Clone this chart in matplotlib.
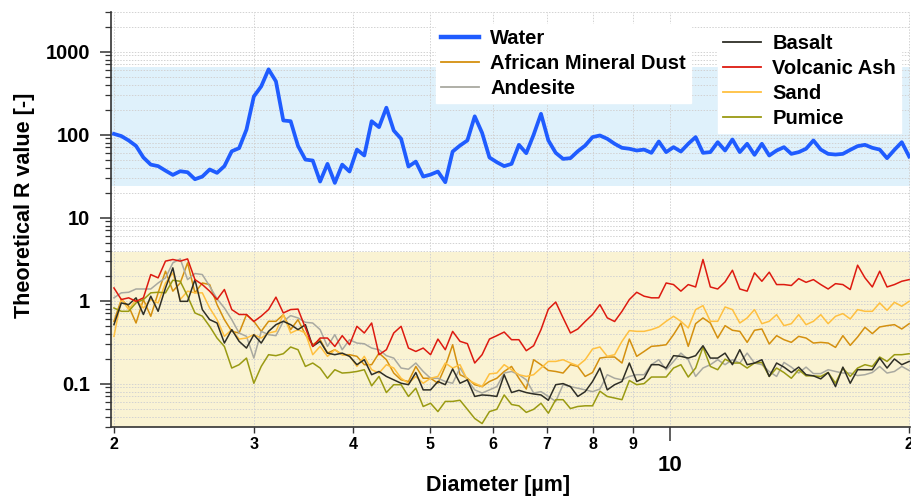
import numpy as np
import matplotlib
matplotlib.use("Agg")
import matplotlib.pyplot as plt
from matplotlib.ticker import FixedLocator, FixedFormatter, LogLocator, NullFormatter
from matplotlib.lines import Line2D

plt.rcParams['font.family'] = ['Liberation Sans', 'DejaVu Sans']
plt.rcParams['font.weight'] = 'bold'

# ---------------- data ----------------
n_bins = 109
diameter = np.geomspace(2.0, 20.0, n_bins)   # size-bin centres [um]

water = [102,96,85,73,53,43.5,41.7,36.8,32.7,36.2,35.2,29,31.2,38,34.6,41.7,63,68.7,115,288,
         381,611,438,148,145,73,50,48.7,27.2,44.4,26.2,43.5,35.9,66,56,145,123,211,112,89,
         41.2,47.3,31.2,33,35.9,26.7,62.5,73.8,85,166,105,53,46.5,41.7,
         44.4,75.3,59.7,99.6,178,85,60.3,51,52,63,73.8,93.3,97.6,89,77.5,69.3,67.5,64.3,66,
         60.3,82.6,61.5,70.6,62.5,77.5,93.3,60.3,61.5,81,64.3,87.3,61.5,77.5,57,77.5,56,64.3,
         70.6,58.6,61.5,67.5,85,66,58.6,57.5,58.6,65.5,72.6,75.3,69.3,66,52,65.5,81,54.5]

african_dust = [0.563,1.03,0.854,0.537,1.03,0.647,1.24,2.26,1.30,1.63,2.85,1.24,1.63,1.56,0.895,0.59,0.426,0.407,0.677,0.563,0.426,0.563,0.563,
                0.677,0.447,0.590,0.389,0.294,0.338,0.233,0.256,0.223,0.223,0.213,0.169,0.169,0.233,0.194,0.134,0.111,0.106,0.161,0.116,0.116,
                0.101,0.161,0.294,0.128,0.116,0.097,0.092,0.106,0.116,0.140,0.161,0.116,0.086,0.194,0.169,0.144,0.140,0.134,0.169,0.161,0.122,0.136,
                0.203,0.209,0.209,0.177,0.344,0.213,0.244,0.281,0.286,0.294,0.389,0.537,0.281,0.527,0.618,0.537,0.354,0.499,0.439,0.426,0.314,0.439,
                0.455,0.300,0.378,0.338,0.314,0.371,0.354,0.308,0.314,0.308,0.273,0.378,0.289,0.364,0.477,0.400,0.481,0.499,0.513,0.455,0.527]

andesite = [1.08,1.24,1.26,1.38,1.38,1.38,1.63,1.88,2.85,3.18,1.79,2.12,2.06,1.49,1.05,0.815,0.59,0.407,0.371,0.203,0.426,0.389,0.378,
            0.563,0.659,0.618,0.548,0.537,0.447,0.281,0.389,0.256,0.338,0.308,0.302,0.268,0.256,0.217,0.203,0.154,0.149,0.177,0.140,0.116,
            0.116,0.106,0.101,0.154,0.111,0.084,0.077,0.084,0.092,0.134,0.140,0.128,0.111,0.077,0.080,0.070,0.061,0.097,0.092,0.088,0.084,0.080,
            0.086,0.128,0.116,0.111,0.122,0.128,0.128,0.169,0.194,0.147,0.185,0.233,0.194,0.122,0.154,0.169,0.194,0.169,0.194,0.177,0.233,0.177,
            0.169,0.140,0.122,0.180,0.158,0.134,0.158,0.132,0.132,0.147,0.140,0.134,0.134,0.125,0.128,0.136,0.161,0.134,0.140,0.161,0.144]

basalt = [0.513,0.937,0.895,1.08,0.68,1.13,0.743,1.42,2.48,0.98,0.98,1.79,0.78,0.59,0.537,0.308,0.447,0.323,0.268,0.388,0.308,0.426,0.513,
          0.563,0.513,0.447,0.513,0.281,0.323,0.233,0.223,0.233,0.213,0.169,0.194,0.128,0.140,0.122,0.111,0.101,0.097,0.136,0.084,0.084,
          0.106,0.097,0.150,0.101,0.111,0.070,0.073,0.072,0.070,0.128,0.078,0.083,0.078,0.075,0.073,0.063,0.097,0.100,0.092,0.070,0.080,0.106,
          0.154,0.084,0.097,0.106,0.177,0.106,0.116,0.169,0.169,0.154,0.217,0.213,0.203,0.217,0.286,0.203,0.203,0.233,0.169,0.256,0.169,0.177,
          0.194,0.122,0.177,0.158,0.136,0.158,0.128,0.124,0.114,0.136,0.092,0.158,0.101,0.147,0.147,0.147,0.203,0.154,0.198,0.169,0.185]

volcanic_ash = [1.42,1.03,1.08,0.98,1.08,2.06,1.88,2.99,3.13,2.99,3.18,1.79,1.56,1.30,1.03,1.36,0.78,0.68,0.68,0.56,0.65,0.78,1.10,
                0.71,0.78,0.79,0.47,0.28,0.354,0.354,0.28,0.378,0.294,0.49,0.407,0.537,0.223,0.256,0.407,0.49,0.268,0.244,0.268,0.223,
                0.344,0.256,0.426,0.323,0.303,0.177,0.223,0.344,0.378,0.418,0.338,0.338,0.249,0.286,0.447,0.79,0.96,0.62,0.407,0.455,0.56,0.68,
                0.895,0.62,0.56,0.743,1.03,1.26,1.13,1.08,1.08,1.63,1.56,1.30,1.56,1.46,3.13,1.46,1.38,1.68,2.32,1.38,1.30,2.16,
                1.71,2.20,1.56,1.56,1.52,1.84,1.66,1.79,1.56,1.38,1.60,1.56,1.36,2.67,1.88,1.46,2.26,1.46,1.56,1.71,1.79]

sand = [0.371,1.05,0.779,1.03,0.815,1.03,0.937,1.63,2.16,1.03,1.30,1.24,1.24,0.815,0.59,0.371,0.447,0.344,0.354,0.389,0.354,0.407,0.426,
        0.677,0.407,0.447,0.407,0.223,0.281,0.213,0.256,0.223,0.217,0.161,0.213,0.147,0.134,0.169,0.154,0.116,0.101,0.122,0.101,0.116,
        0.122,0.177,0.154,0.169,0.111,0.101,0.092,0.131,0.134,0.169,0.147,0.128,0.122,0.128,0.154,0.185,0.185,0.194,0.177,0.164,0.194,0.261,
        0.276,0.213,0.223,0.323,0.435,0.426,0.426,0.447,0.481,0.563,0.647,0.563,0.468,0.779,0.870,0.563,0.563,0.838,0.779,0.537,0.618,0.779,
        0.527,0.563,0.677,0.499,0.527,0.677,0.513,0.563,0.677,0.527,0.647,0.697,0.601,0.779,0.743,0.743,0.937,0.764,0.955,0.854,0.98]

pumice = [0.815,0.743,0.743,0.94,1.03,1.24,1.26,1.24,1.76,1.71,1.13,0.71,0.65,0.49,0.354,0.28,0.154,0.169,0.203,0.101,0.161,0.223,0.217,
          0.229,0.276,0.256,0.161,0.177,0.154,0.116,0.147,0.134,0.136,0.140,0.147,0.094,0.122,0.078,0.097,0.097,0.070,0.088,0.053,0.058,
          0.046,0.061,0.061,0.063,0.049,0.038,0.033,0.046,0.049,0.073,0.056,0.054,0.045,0.049,0.058,0.044,0.064,0.064,0.050,0.053,0.054,0.054,
          0.081,0.070,0.067,0.064,0.109,0.097,0.100,0.120,0.120,0.120,0.154,0.169,0.120,0.154,0.276,0.161,0.147,0.197,0.177,0.177,0.154,0.177,
          0.180,0.122,0.154,0.136,0.116,0.147,0.124,0.124,0.122,0.136,0.101,0.154,0.122,0.154,0.169,0.161,0.209,0.185,0.223,0.223,0.229]

water_band = (24, 660)
aerosol_band_top = 3.8

x_minor_ticks = [2, 3, 4, 5, 6, 7, 8, 9, 20]
x_minor_labels = ['2', '3', '4', '5', '6', '7', '8', '9', '2']
x_major_ticks = [10]
x_major_labels = ['10']
y_major_ticks = [0.1, 1, 10, 100, 1000]
y_major_labels = ['0.1', '1', '10', '100', '1000']

# ---------------- figure ----------------
fig = plt.figure(figsize=(9.11, 4.97), dpi=100)
ax = fig.add_axes([111/911, 1 - 427/497, (910 - 111)/911, (427 - 12)/497])
ax.set_xscale('log')
ax.set_yscale('log')
ax.set_xlim(1.983, 20.05)
ax.set_ylim(0.03, 3000)

ax.axhspan(water_band[0], water_band[1], color='#dff1fb', zorder=0.1, lw=0)
ax.axhspan(1e-3, aerosol_band_top, color='#faf3d3', zorder=0.1, lw=0)

ax.set_axisbelow(True)
ax.grid(which='both', color='#d2d2d2', ls=(0, (1.5, 1.5)), lw=0.7, zorder=0.2)

series = [
    (african_dust, '#d4900f', 'African Mineral Dust'),
    (andesite, '#a9a9a0', 'Andesite'),
    (sand, '#ffc040', 'Sand'),
    (pumice, '#9a9a12', 'Pumice'),
    (basalt, '#2e2e26', 'Basalt'),
    (volcanic_ash, '#dd1a10', 'Volcanic Ash'),
]
for vals, col, name in series:
    ax.plot(diameter, vals, color=col, lw=1.1, zorder=3)
ax.plot(diameter, water, color='#1f5cff', lw=2.7, zorder=4)

# axes styling
for s in ['top', 'right']:
    ax.spines[s].set_visible(False)
for s in ['left', 'bottom']:
    ax.spines[s].set_color('#333333')
    ax.spines[s].set_linewidth(1.2)

ax.xaxis.set_major_locator(FixedLocator(x_major_ticks))
ax.xaxis.set_major_formatter(FixedFormatter(x_major_labels))
ax.xaxis.set_minor_locator(FixedLocator(x_minor_ticks))
ax.xaxis.set_minor_formatter(FixedFormatter(x_minor_labels))
ax.tick_params(axis='x', which='major', length=10, width=1.1, pad=10, labelsize=16, color='#333333')
ax.tick_params(axis='x', which='minor', length=4, width=1.0, pad=3, labelsize=11.5, color='#333333')

ax.yaxis.set_major_locator(FixedLocator(y_major_ticks))
ax.yaxis.set_major_formatter(FixedFormatter(y_major_labels))
ax.yaxis.set_minor_locator(LogLocator(base=10, subs=np.arange(2, 10)))
ax.yaxis.set_minor_formatter(NullFormatter())
ax.tick_params(axis='y', which='major', length=8, width=1.1, pad=7, labelsize=14.5, color='#333333')
ax.tick_params(axis='y', which='minor', length=4.5, width=0.9, color='#333333')

for lab in ax.get_xticklabels(which='both') + ax.get_yticklabels():
    lab.set_fontweight('bold')

fig.text(25/911, 1 - 205/497, 'Theoretical R value [-]', rotation=90, ha='center', va='center',
         fontsize=15.5, fontweight='bold')
fig.text(498/911, 1 - 485/497, 'Diameter [µm]', ha='center', va='center',
         fontsize=15.5, fontweight='bold')

# legends
h1 = [Line2D([], [], color='#1f5cff', lw=3.2), Line2D([], [], color='#d4900f', lw=1.3),
      Line2D([], [], color='#a9a9a0', lw=1.3)]
l1 = ['Water', 'African Mineral Dust', 'Andesite']
leg1 = fig.legend(h1, l1, loc='upper left', bbox_to_anchor=(436/911, 1 - 24/497),
                  frameon=True, fancybox=False, framealpha=1, edgecolor='white',
                  prop={'weight': 'bold', 'size': 14.5}, handlelength=1.9, handletextpad=0.55,
                  labelspacing=0.3, borderpad=0.25, borderaxespad=0)
leg1.set_zorder(10)
h2 = [Line2D([], [], color='#2e2e26', lw=1.3), Line2D([], [], color='#dd1a10', lw=1.3),
      Line2D([], [], color='#ffc040', lw=1.3), Line2D([], [], color='#9a9a12', lw=1.3)]
l2 = ['Basalt', 'Volcanic Ash', 'Sand', 'Pumice']
leg2 = fig.legend(h2, l2, loc='upper left', bbox_to_anchor=(718/911, 1 - 29/497),
                  frameon=True, fancybox=False, framealpha=1, edgecolor='white',
                  prop={'weight': 'bold', 'size': 14.5}, handlelength=1.9, handletextpad=0.55,
                  labelspacing=0.3, borderpad=0.25, borderaxespad=0)
leg2.set_zorder(10)

fig.savefig('out.png', dpi=100)
